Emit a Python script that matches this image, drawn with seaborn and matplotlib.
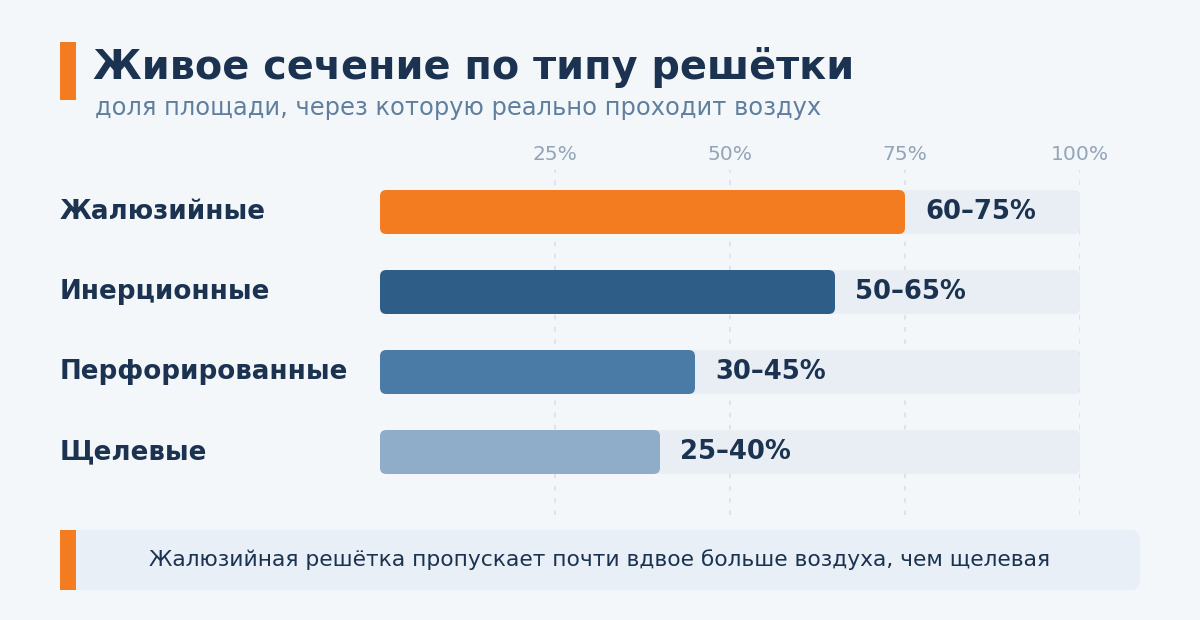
import matplotlib
matplotlib.use("Agg")
import matplotlib.pyplot as plt
import matplotlib.transforms as mtransforms
from matplotlib.patches import FancyBboxPatch, Rectangle
import pandas as pd
import seaborn as sns

# data
categories = ["Жалюзийные", "Инерционные", "Перфорированные", "Щелевые"]
low_pct = [60, 50, 30, 25]
high_pct = [75, 65, 45, 40]
track_pct = [100, 100, 100, 100]
tick_values = [25, 50, 75, 100]
tick_labels = ["25%", "50%", "75%", "100%"]

title = "Живое сечение по типу решётки"
subtitle = "доля площади, через которую реально проходит воздух"
footer = "Жалюзийная решётка пропускает почти вдвое больше воздуха, чем щелевая"

BG = "#F4F7FA"
TRACK = "#E9EEF5"
DARK = "#1B3350"
ORANGE = "#F47C20"
bar_colors = ["#F47C20", "#2E5D87", "#4A7AA6", "#8FADC8"]

sns.set_theme(style="white")
plt.rcParams["font.family"] = ["DejaVu Sans"]

W, H = 1200, 620
fig = plt.figure(figsize=(W / 100, H / 100), dpi=100)
fig.patch.set_facecolor(BG)

# axes: x 0..100 -> px 380..1080, rows at 212/292/372/452 px
ax = fig.add_axes([380 / W, 1 - 515 / H, 700 / W, 345 / H])
ax.set_facecolor("none")

df = pd.DataFrame({"cat": categories, "high": high_pct, "track": track_pct})
sns.barplot(data=df, y="cat", x="track", color=TRACK, saturation=1,
            width=0.55, ax=ax, zorder=1)
n_track = len(ax.patches)
sns.barplot(data=df, y="cat", x="high", hue="cat", palette=bar_colors,
            saturation=1, width=0.55, legend=False, ax=ax, zorder=2)

ax.set_xlim(0, 100)
ax.set_ylim(3.7875, -0.525)

# swap plain rectangles for rounded ones
aspect = (1 / 80) / (1 / 7)
for i, p in enumerate(list(ax.patches)):
    x0, y0, w, h = p.get_x(), p.get_y(), p.get_width(), p.get_height()
    fb = FancyBboxPatch((x0, y0), w, h,
                        boxstyle="round,pad=0,rounding_size=0.9",
                        mutation_aspect=aspect,
                        facecolor=p.get_facecolor(), edgecolor="none",
                        zorder=1 if i < n_track else 2)
    p.remove()
    ax.add_patch(fb)

# value labels
for i, (lo, hi) in enumerate(zip(low_pct, high_pct)):
    ax.text(hi + 20 / 7, i, f"{lo}–{hi}%", va="center", ha="left",
            fontsize=18.6, fontweight="bold", color=DARK, zorder=3)

# category labels at left margin
tr = mtransforms.blended_transform_factory(fig.transFigure, ax.transData)
for i, c in enumerate(categories):
    ax.text(60 / W, i, c, transform=tr, va="center", ha="left",
            fontsize=18.8, fontweight="bold", color=DARK)

ax.set_xlabel("")
ax.set_ylabel("")
ax.set_yticks([])
ax.xaxis.tick_top()
ax.set_xticks(tick_values)
ax.set_xticklabels(tick_labels, color="#93A5B8", fontsize=14.6)
ax.tick_params(axis="x", length=0, pad=4)
ax.grid(axis="x", color="#D6DEE7", linestyle=(0, (3, 5)), linewidth=1.1)
ax.set_axisbelow(True)
for s in ax.spines.values():
    s.set_visible(False)

# header
fig.patches.append(Rectangle((60 / W, 1 - 100 / H), 16 / W, 58 / H,
                             transform=fig.transFigure, facecolor=ORANGE,
                             edgecolor="none"))
fig.text(93 / W, 1 - 79 / H, title, fontsize=28.6, fontweight="bold",
         color=DARK, ha="left", va="baseline")
fig.text(95 / W, 1 - 115 / H, subtitle, fontsize=17.4, color="#5F7F9E",
         ha="left", va="baseline")

# footer box
fig.patches.append(FancyBboxPatch((60 / W, 1 - 590 / H), 1080 / W, 60 / H,
                                  boxstyle="round,pad=0,rounding_size=0.008",
                                  mutation_aspect=W / H,
                                  transform=fig.transFigure,
                                  facecolor="#E8EFF6", edgecolor="none"))
fig.patches.append(Rectangle((60 / W, 1 - 590 / H), 16 / W, 60 / H,
                             transform=fig.transFigure, facecolor=ORANGE,
                             edgecolor="none"))
fig.text(600 / W, 1 - 560 / H, footer, fontsize=15.7, color=DARK,
         ha="center", va="center")

fig.savefig("out.png", dpi=100, facecolor=BG)
